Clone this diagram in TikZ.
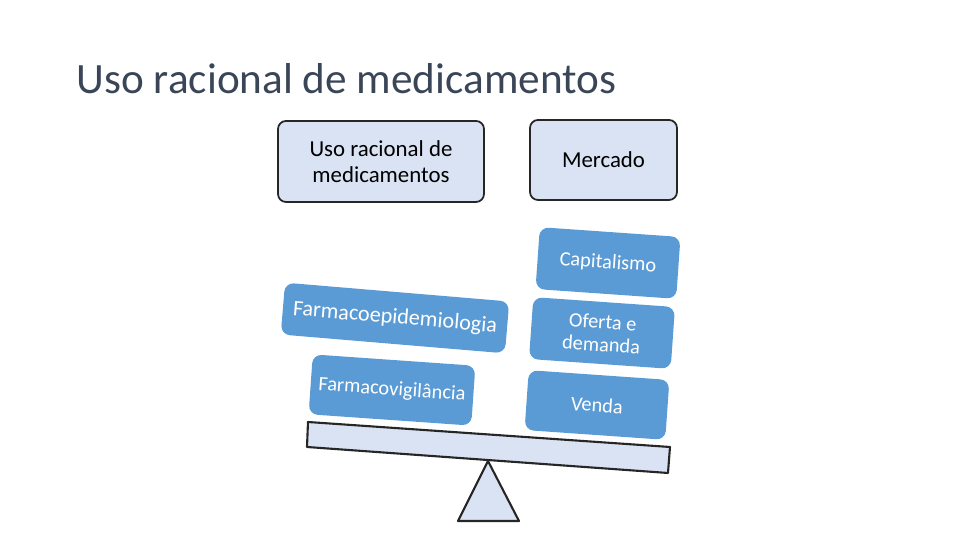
\documentclass[tikz,border=0pt]{standalone}
\usepackage{fontspec}
\setmainfont{Carlito}
\usepackage{xcolor}
\definecolor{titlegray}{HTML}{3A4658}
\definecolor{paleblue}{HTML}{DAE3F3}
\definecolor{midblue}{HTML}{5B9BD5}
\definecolor{edgegray}{HTML}{262626}

\begin{document}
\begin{tikzpicture}[line join=round,
  topbox/.style={draw=edgegray,line width=0.5pt,fill=paleblue,rounded corners=0.08cm,
    align=center,font=\fontsize{6.5}{7.4}\selectfont,inner sep=0pt},
  bluebox/.style={fill=midblue,rounded corners=0.09cm,text=white,align=center,
    font=\fontsize{5.8}{6.5}\selectfont,inner sep=0pt,rotate=-4}]
\useasboundingbox (0,0) rectangle (9.6,5.4);
\node[anchor=base west,text=titlegray,font=\fontsize{12.3}{15}\selectfont,inner sep=0pt] (title) at (0.76,4.46) {Uso racional de medicamentos};
% pratos da balanca
\node[topbox,minimum width=2.06cm,minimum height=0.81cm] (urm) at (3.81,3.785) {Uso racional de\\medicamentos};
\node[topbox,minimum width=1.47cm,minimum height=0.80cm] (merc) at (6.035,3.80) {Mercado};
% lado esquerdo
\node[bluebox,rotate=-0.8,minimum width=2.25cm,minimum height=0.52cm,font=\fontsize{6.3}{7}\selectfont] (fepi) at (3.95,2.22) {Farmacoepidemiologia};
\node[bluebox,minimum width=1.63cm,minimum height=0.60cm] (fvig) at (3.92,1.50) {Farmacovigil\^ancia};
% lado direito
\node[bluebox,minimum width=1.41cm,minimum height=0.62cm] (cap) at (6.08,2.77) {Capitalismo};
\node[bluebox,minimum width=1.42cm,minimum height=0.62cm] (ofd) at (6.02,2.07) {Oferta e\\demanda};
\node[bluebox,minimum width=1.41cm,minimum height=0.60cm] (venda) at (5.97,1.35) {Venda};
% travessao e apoio
\draw[edgegray,fill=paleblue,line width=0.6pt] (3.08,1.18) -- (6.70,0.93) -- (6.68,0.67) -- (3.07,0.93) -- cycle;
\draw[edgegray,fill=paleblue,line width=0.6pt] (4.88,0.79) -- (4.58,0.19) -- (5.19,0.19) -- cycle;
\end{tikzpicture}
\end{document}
